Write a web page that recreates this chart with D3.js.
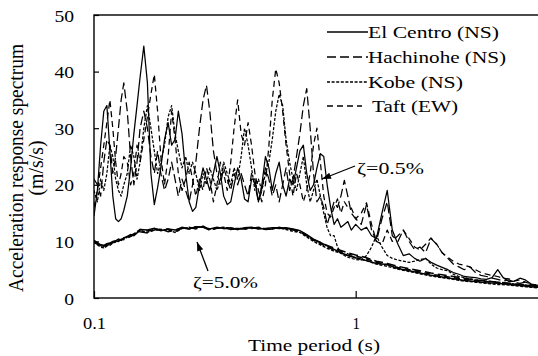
<!DOCTYPE html>
<html><head><meta charset="utf-8">
<script src="https://cdn.jsdelivr.net/npm/d3@7"></script>
<style>
body{margin:0;background:#fff;}
svg{display:block;}
svg text{font-family:"Liberation Serif","Times New Roman",Tinos,serif;}
</style></head><body>
<svg id="c" width="538" height="356"></svg>
<script>
// ---------- DATA ----------
const records = ["El Centro (NS)", "Hachinohe (NS)", "Kobe (NS)", "Taft (EW)"];

// periods (s) for the zeta = 0.5% spectra
const periods = [
  0.100, 0.103, 0.106, 0.109, 0.112, 0.115, 0.118, 0.121, 0.124, 0.127,
  0.130, 0.134, 0.138, 0.142, 0.146, 0.150, 0.155, 0.160, 0.165, 0.170,
  0.175, 0.180, 0.186, 0.192, 0.198, 0.204, 0.210, 0.217, 0.224, 0.231,
  0.238, 0.245, 0.253, 0.261, 0.269, 0.277, 0.286, 0.295, 0.304, 0.313,
  0.323, 0.333, 0.343, 0.354, 0.365, 0.376, 0.388, 0.400, 0.412, 0.425,
  0.438, 0.452, 0.466, 0.480, 0.495, 0.510, 0.526, 0.542, 0.559, 0.576,
  0.594, 0.612, 0.631, 0.650, 0.670, 0.690, 0.711, 0.733, 0.755, 0.778,
  0.802, 0.827, 0.852, 0.878, 0.905, 0.933, 0.962, 1.00, 1.05, 1.10,
  1.15, 1.20, 1.26, 1.32, 1.38, 1.45, 1.52, 1.60, 1.68, 1.76,
  1.85, 1.94, 2.04, 2.14, 2.25, 2.36, 2.48, 2.60, 2.73, 2.87,
  3.01, 3.16, 3.32, 3.49, 3.66, 3.85, 4.04, 4.24, 4.45, 4.67,
  4.90, 5.00
];

const elCentro05 = [
  14.5, 19, 27, 33, 34, 26, 18, 14, 13.5, 14,
  15.5, 18, 23, 29, 34, 39, 44.5, 38, 22, 16.5,
  19.5, 23, 28, 31, 27, 28, 33, 29, 22, 17,
  15.3, 16, 20, 23, 21, 19, 22, 25, 22, 18,
  16.5, 17, 20, 23, 21, 17.5, 17, 21, 21, 17,
  20, 25, 23, 19, 22, 24, 20, 18, 21, 20,
  23, 26, 27, 22, 19, 20, 23, 25.5, 25, 20,
  16, 13, 14, 12.5, 13, 13.5, 12, 13, 12, 12.5,
  11, 10.5, 15, 19, 12, 9.5, 7.5, 7.8, 7, 6.5,
  7, 6.3, 5.8, 5.4, 5, 4.5, 4.2, 3.8, 3.7, 3.6,
  3.4, 3.3, 3.6, 5, 3.6, 2.9, 3, 3.5, 3.2, 2.5,
  2.2, 2.1
];

const hachinohe05 = [
  21, 20, 18, 24, 28, 27, 22, 25, 30, 35,
  38, 33, 25, 20, 24, 30, 33, 30, 25, 22,
  26, 22, 19, 21, 24, 21, 18, 21, 19, 17,
  20, 24, 30, 35, 37.6, 33, 26, 22, 20, 23,
  21, 19, 22, 20, 22, 20, 18, 22, 20, 17,
  19, 23, 21, 18, 20, 17, 20, 23, 19, 21,
  25, 29, 34, 37, 30, 22, 17, 18, 16, 13,
  15, 17, 16, 18, 20.8, 18, 15, 14, 13, 16.5,
  12, 10, 14, 17, 11, 10, 12, 10, 8.5, 9,
  8, 10.5, 9.5, 8, 7, 6, 5.5, 5, 5.5, 4.5,
  4, 3.8, 3.5, 3.3, 3, 3.2, 2.8, 2.6, 2.8, 2.4,
  2.2, 2.1
];

const kobe05 = [
  19, 17, 21, 19, 22, 27, 25, 21, 19, 18,
  20, 22, 27, 25, 21, 24, 30, 34, 30, 26,
  22, 24, 27, 32, 34, 29, 26, 23, 25, 22,
  24, 22, 19, 22, 20, 23, 21, 19, 21, 24,
  22, 20, 23, 21, 25, 30, 27, 23, 19, 21,
  19, 22, 24, 28, 33, 36, 34, 28, 24, 21,
  19, 22, 25, 20, 17, 19, 21, 18, 15, 12.4,
  11, 11, 9, 8, 7.5, 7.2, 7, 6.8, 6.7, 7.5,
  9, 11, 9, 7.5, 7, 6.7, 6.5, 6.3, 6.5, 6.8,
  7, 6, 5.3, 5, 4.8, 4.2, 3.8, 3.6, 3.4, 3.2,
  3.1, 3, 2.9, 2.8, 2.7, 2.6, 2.5, 2.4, 2.3, 2.2,
  2.1, 2.0
];

const taft05 = [
  16, 19, 23, 27, 31, 35, 30, 24, 20, 22,
  25, 24, 20, 22, 27, 24, 28, 32, 36, 39.5,
  33, 25, 20, 25, 33, 28, 22, 19, 21, 24,
  21, 18, 21, 19, 23, 21, 17, 20, 24, 22,
  19, 24, 30, 35, 29, 27, 31, 27, 22, 19,
  17, 20, 27, 35, 40.5, 38, 33, 27, 22, 18,
  22, 20, 17, 19, 22, 27, 30, 24, 18, 15,
  14.3, 16, 17.5, 15, 17, 16, 15.9, 14, 15, 16.8,
  13, 10, 9.5, 12, 10, 11, 12, 10.5, 9, 8.5,
  9.5, 10.6, 9.5, 8, 7.2, 6.5, 6, 5.8, 5.5, 5,
  4.5, 4.2, 4, 3.8, 3.5, 3.4, 3, 3.2, 2.8, 2.5,
  2.3, 2.2
];

// periods (s) for the zeta = 5.0% spectra
const periods5 = [
  0.100, 0.103, 0.106, 0.109, 0.112, 0.115, 0.118, 0.121,
  0.124, 0.127, 0.130, 0.134, 0.138, 0.142, 0.146, 0.150,
  0.160, 0.170, 0.180, 0.192, 0.204, 0.217, 0.231, 0.245,
  0.261, 0.277, 0.295, 0.313, 0.333, 0.354, 0.376, 0.400,
  0.425, 0.452, 0.480, 0.510, 0.542, 0.576, 0.612, 0.650,
  0.690, 0.733, 0.778, 0.827, 0.878, 0.933, 1.00, 1.10,
  1.20, 1.32, 1.45, 1.60, 1.76, 1.94, 2.14, 2.36,
  2.60, 2.87, 3.16, 3.49, 3.85, 4.24, 4.67, 5.00
];

const elCentro50 = [
  10.2, 9.8, 9.4, 9.3, 9.6, 9.7, 10.0, 10.1,
  10.4, 10.2, 10.6, 10.9, 11.2, 11.0, 11.5, 12.1,
  12.0, 12.3, 11.9, 12.2, 12.0, 12.5, 12.2, 12.6,
  12.5, 12.2, 12.5, 12.3, 12.4, 12.1, 12.4, 12.5,
  12.2, 12.3, 12.4, 12.3, 12.4, 12.2, 11.9, 11.2,
  10.4, 9.8, 9.2, 8.6, 8.0, 7.5, 7.1, 6.6,
  6.1, 5.9, 5.2, 4.8, 4.4, 4.0, 3.7, 3.4,
  3.1, 2.9, 2.7, 2.6, 2.4, 2.2, 2.0, 1.9
];
const hachinohe50 = [
  9.8, 9.5, 9.3, 8.8, 9.2, 9.6, 9.7, 10.1,
  10.0, 10.4, 10.4, 10.6, 11.1, 11.3, 11.8, 11.7,
  11.5, 12.0, 12.2, 11.7, 12.0, 12.3, 12.5, 12.2,
  12.7, 12.0, 12.3, 12.5, 12.1, 12.3, 12.2, 12.3,
  12.5, 12.1, 12.2, 12.5, 12.2, 12.1, 11.7, 11.0,
  10.3, 9.8, 9.3, 8.8, 8.4, 8.0, 7.6, 7.1,
  6.5, 6.1, 5.6, 5.2, 4.8, 4.4, 4.1, 3.8,
  3.5, 3.2, 3.0, 2.8, 2.6, 2.4, 2.2, 2.0
];
const kobe50 = [
  10.0, 9.4, 9.0, 8.9, 9.3, 9.3, 9.7, 9.9,
  10.1, 10.4, 10.3, 10.8, 10.9, 11.2, 11.6, 11.9,
  11.6, 12.2, 12.1, 12.0, 11.6, 12.3, 12.4, 12.4,
  12.6, 12.2, 12.3, 12.5, 12.3, 12.3, 12.2, 12.4,
  12.4, 12.2, 12.2, 12.4, 12.1, 11.8, 11.6, 10.8,
  10.0, 9.4, 8.8, 8.3, 7.9, 7.5, 7.1, 6.6,
  6.0, 5.6, 5.1, 4.7, 4.3, 3.9, 3.6, 3.3,
  3.0, 2.8, 2.6, 2.4, 2.3, 2.1, 1.9, 1.8
];
const taft50 = [
  9.9, 9.7, 9.1, 9.1, 9.5, 9.4, 9.9, 10.0,
  10.3, 10.2, 10.6, 10.6, 10.9, 11.2, 11.7, 12.1,
  11.9, 11.9, 12.1, 12.2, 11.7, 12.4, 12.2, 12.6,
  12.5, 12.0, 12.4, 12.3, 12.3, 12.1, 12.3, 12.4,
  12.3, 12.2, 12.4, 12.4, 12.3, 12.0, 11.9, 11.1,
  10.2, 9.6, 9.0, 8.5, 8.2, 7.8, 7.4, 6.9,
  6.3, 5.9, 5.4, 5.0, 4.6, 4.2, 3.9, 3.6,
  3.3, 3.1, 2.9, 2.7, 2.5, 2.3, 2.1, 1.9
];

const yTicks = [0, 10, 20, 30, 40, 50];
const xTicks = [0.1, 1];
const xTickLabels = ["0.1", "1"];
const dampingLabels = ["ζ=0.5%", "ζ=5.0%"];

// ---------- DRAW ----------
const svg = d3.select("#c");
const x = d3.scaleLog().domain([0.1, 5]).range([94, 538.6]);
const y = d3.scaleLinear().domain([0, 50]).range([298, 15]);
const dashes = [null, "9,4", "3,1.6", "6,4"];

function fit(sel, w) {
  sel.attr("textLength", w).attr("lengthAdjust", "spacingAndGlyphs");
}

svg.append("clipPath").attr("id", "clip")
  .append("rect").attr("x", 94).attr("y", 10).attr("width", 450).attr("height", 288);

const plot = svg.append("g").attr("clip-path", "url(#clip)");
const line = d3.line().x(d => x(d[0])).y(d => y(d[1]));

const s05 = [elCentro05, hachinohe05, kobe05, taft05];
const s50 = [elCentro50, hachinohe50, kobe50, taft50];

s50.forEach((vals, i) => {
  plot.append("path")
    .datum(periods5.map((p, j) => [p, vals[j]]))
    .attr("d", line).attr("fill", "none").attr("stroke", "#000")
    .attr("stroke-width", 1.5).attr("stroke-dasharray", dashes[i]);
});
s05.forEach((vals, i) => {
  plot.append("path")
    .datum(periods.map((p, j) => [p, vals[j]]))
    .attr("d", line).attr("fill", "none").attr("stroke", "#000")
    .attr("stroke-width", 1.25).attr("stroke-dasharray", dashes[i])
    .attr("stroke-linejoin", "round");
});

// frame
svg.append("rect").attr("x", 94).attr("y", 15).attr("width", 460).attr("height", 283)
  .attr("fill", "none").attr("stroke", "#000").attr("stroke-width", 1.4);

// y axis
const ya = svg.append("g").attr("transform", "translate(94,0)")
  .call(d3.axisLeft(y).tickValues(yTicks).tickSize(-5).tickPadding(20));
ya.attr("font-size", 17).attr("font-family", null);
ya.select(".domain").remove();
ya.selectAll("line").attr("stroke", "#000").attr("stroke-width", 1.2);
ya.selectAll("text").attr("fill", "#000").attr("dy", "0.36em")
  .each(function (d) { fit(d3.select(this), d === 0 ? 9.8 : 19.6); });

// x axis
const xa = svg.append("g").attr("transform", "translate(0,298)")
  .call(d3.axisBottom(x).tickValues(xTicks).tickSize(-7).tickPadding(19)
    .tickFormat((d, i) => xTickLabels[i]));
xa.attr("font-size", 17).attr("font-family", null);
xa.select(".domain").remove();
xa.selectAll("line").attr("stroke", "#000").attr("stroke-width", 1.2);
xa.selectAll("text").attr("fill", "#000")
  .each(function (d) { fit(d3.select(this), d === 1 ? 7.5 : 23); });

// axis titles
const xt = svg.append("text").attr("x", 314).attr("y", 351).attr("text-anchor", "middle")
  .attr("font-size", 17).text("Time period (s)");
fit(xt, 132);

const yt = svg.append("g").attr("transform", "translate(22.5,168) scale(1.2,1) rotate(-90)");
const yt1 = yt.append("text").attr("text-anchor", "middle").attr("font-size", 18)
  .text("Acceleration response spectrum");
fit(yt1, 248);
const yt2 = svg.append("g").attr("transform", "translate(43,168) scale(1.2,1) rotate(-90)");
const yt2t = yt2.append("text").attr("text-anchor", "middle").attr("font-size", 18)
  .text("(m/s/s)");
fit(yt2t, 55);

// legend
const legY = [32, 57, 82, 106];
const legW = [131, 138, 95, 86];
records.forEach((name, i) => {
  svg.append("line").attr("x1", 327).attr("x2", i === 3 ? 362 : 368)
    .attr("y1", legY[i]).attr("y2", legY[i])
    .attr("stroke", "#000").attr("stroke-width", 1.3)
    .attr("stroke-dasharray", dashes[i]);
  const t = svg.append("text").attr("x", i === 3 ? 372 : 368).attr("y", legY[i] + 5.5)
    .attr("font-size", 17).text(name);
  fit(t, legW[i]);
});

// damping annotations
function arrow(x1, y1, x2, y2) {
  svg.append("line").attr("x1", x1).attr("y1", y1).attr("x2", x2).attr("y2", y2)
    .attr("stroke", "#000").attr("stroke-width", 1.3);
  const a = Math.atan2(y2 - y1, x2 - x1), L = 9, W = 3.2;
  const bx = x2 - L * Math.cos(a), by = y2 - L * Math.sin(a);
  const px = -Math.sin(a) * W, py = Math.cos(a) * W;
  svg.append("polygon")
    .attr("points", `${x2},${y2} ${bx + px},${by + py} ${bx - px},${by - py}`)
    .attr("fill", "#000");
}
arrow(355, 166, 322, 179);
arrow(208, 271, 197, 242);

const z1 = svg.append("text").attr("x", 357).attr("y", 174).attr("font-size", 17).text(dampingLabels[0]);
fit(z1, 67);
const z2 = svg.append("text").attr("x", 193).attr("y", 288).attr("font-size", 17).text(dampingLabels[1]);
fit(z2, 65);
</script>
</body></html>
